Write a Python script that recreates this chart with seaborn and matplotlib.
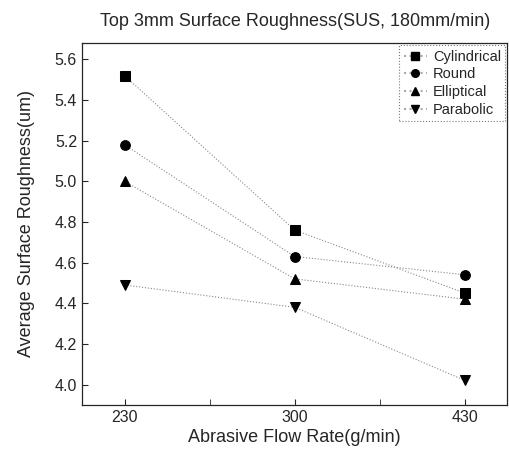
import matplotlib
matplotlib.use('Agg')
import pandas as pd
import seaborn as sns
import matplotlib.pyplot as plt
from matplotlib.lines import Line2D

rates = ['230', '300', '430']
cylindrical = [5.52, 4.76, 4.45]
round_ = [5.18, 4.63, 4.54]
elliptical = [5.00, 4.52, 4.42]
parabolic = [4.49, 4.38, 4.02]
names = ['Cylindrical', 'Round', 'Elliptical', 'Parabolic']
marks = ['s', 'o', '^', 'v']

sns.set_style('ticks')
plt.rcParams['font.family'] = ['Liberation Sans', 'DejaVu Sans']

df = pd.DataFrame({
    'rate': rates * 4,
    'value': cylindrical + round_ + elliptical + parabolic,
    'shape': [n for n in names for _ in rates],
})

fig = plt.figure(figsize=(5.09, 4.59), dpi=100)
ax = fig.add_axes([0.161, 0.118, 0.836, 0.788])
sns.lineplot(data=df, x='rate', y='value', hue='shape', style='shape',
             palette=['#888888'] * 4, markers=marks, dashes=False,
             linewidth=0.8, markersize=7, ax=ax, legend=False)
for line in ax.lines:
    line.set_linestyle(':')
    line.set_markerfacecolor('black')
    line.set_markeredgecolor('black')

ax.set_xlim(-0.25, 2.25)
ax.set_ylim(3.9, 5.68)
ax.set_yticks([4.0, 4.2, 4.4, 4.6, 4.8, 5.0, 5.2, 5.4, 5.6])
ax.set_xticks([0.5, 1.5], minor=True)
ax.tick_params(direction='in', labelsize=11.5, length=4)
ax.tick_params(which='minor', direction='in', length=4)
for s in ax.spines.values():
    s.set_visible(True)
    s.set_linewidth(0.9)

ax.set_title('Top 3mm Surface Roughness(SUS, 180mm/min)', fontsize=13, pad=12)
ax.set_xlabel('Abrasive Flow Rate(g/min)', fontsize=13, labelpad=3)
ax.set_ylabel('Average Surface Roughness(um)', fontsize=13, labelpad=14)

handles = [Line2D([], [], color='#aaaaaa', linestyle=':', marker=m,
                  markerfacecolor='black', markeredgecolor='black', markersize=5.5)
           for m in marks]
leg = ax.legend(handles, names, loc='upper right', fontsize=10.5, frameon=True,
                fancybox=False, handlelength=1.6, handletextpad=0.4,
                borderaxespad=0.15, labelspacing=0.25, borderpad=0.3)
leg.get_frame().set_edgecolor('#555555')
leg.get_frame().set_linestyle(':')
leg.get_frame().set_linewidth(0.8)

fig.savefig('out.png', dpi=100)
